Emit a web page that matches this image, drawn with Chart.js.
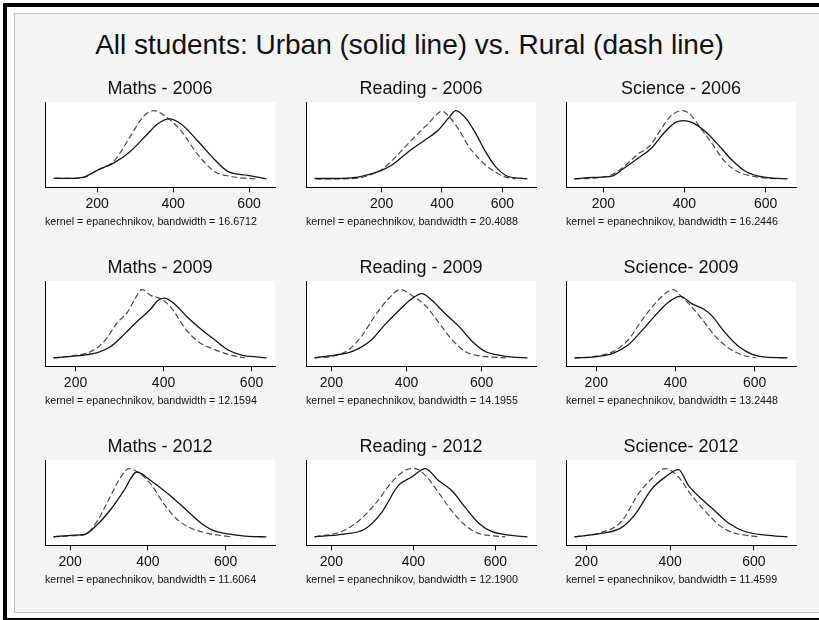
<!DOCTYPE html>
<html>
<head>
<meta charset="utf-8">
<script src="https://cdn.jsdelivr.net/npm/chart.js@4.4.1/dist/chart.umd.min.js"></script>
<style>
  html, body { margin:0; padding:0; background:#ffffff; width:819px; height:620px; overflow:hidden;
    font-family:"Liberation Sans", Arial, sans-serif; }
  #outer { position:absolute; left:3px; top:3px; width:1400px; height:619px; border:4px solid #000; box-sizing:border-box; }
  #inner { position:absolute; left:14px; top:13px; width:1300px; height:600px; border:1px solid #c4c4c4; box-sizing:border-box; background:#f4f4f4; }
  #mainTitle { position:absolute; left:0; top:29px; width:819px; text-align:center; font-size:28px; line-height:32px; color:#111; }
  canvas { position:absolute; }
</style>
</head>
<body>
<div id="outer"></div>
<div id="inner"></div>
<div id="mainTitle">All students: Urban (solid line) vs. Rural (dash line)</div>
<div id="charts"></div>
<script>
// ---------- DATA (score, kernel density) ----------
const panelTitles = ["Maths - 2006", "Reading - 2006", "Science - 2006",
                     "Maths - 2009", "Reading - 2009", "Science- 2009",
                     "Maths - 2012", "Reading - 2012", "Science- 2012"];
const bandwidths = ["16.6712", "20.4088", "16.2446", "12.1594", "14.1955", "13.2448", "11.6064", "12.1900", "11.4599"];
const xTicks = [200, 400, 600];
const seriesNames = ["Urban", "Rural"];

const maths2006Urban = [[85,0.00005],[125,0.00003],[165,0.00014],[182,0.00038],[200,0.00068],[244,0.00127],[288,0.00221],[332,0.00356],[359,0.00437],[390,0.00478],[421,0.00437],[465,0.00302],[509,0.00154],[544,0.00059],[597,0.00027],[646,0]];
const maths2006Rural = [[90,0.00003],[130,0.00003],[165,0.00011],[200,0.00068],[244,0.0014],[288,0.00343],[324,0.00505],[350,0.00545],[377,0.00505],[421,0.00383],[465,0.00194],[509,0.00059],[553,0.00019],[588,0.00005],[620,0]];
const reading2006Urban = [[-22,0.00002],[44,0.00002],[122,0.00011],[156,0.00027],[200,0.00056],[233,0.00089],[289,0.00178],[344,0.00255],[389,0.00322],[422,0.004],[446,0.00448],[478,0.004],[511,0.003],[544,0.00178],[578,0.00078],[611,0.00022],[656,0.00004],[683,0]];
const reading2006Rural = [[-17,0],[44,0],[122,0.00004],[156,0.00022],[200,0.0006],[244,0.00138],[289,0.00233],[322,0.003],[356,0.00366],[389,0.00433],[400,0.00444],[422,0.00411],[456,0.00322],[489,0.00211],[522,0.00133],[567,0.00056],[611,0.00011],[644,0]];
const science2006Urban = [[129,0],[175,0.00012],[221,0.00024],[250,0.0009],[283,0.00174],[317,0.00264],[350,0.00405],[379,0.00498],[398,0.00512],[417,0.00498],[450,0.0042],[483,0.003],[517,0.00165],[550,0.00066],[583,0.00024],[617,0.00006],[654,0]];
const science2006Rural = [[129,0],[175,0.00006],[221,0.00036],[250,0.00105],[283,0.0021],[317,0.003],[342,0.00435],[367,0.00555],[396,0.006],[417,0.00555],[442,0.00435],[467,0.00315],[500,0.0015],[533,0.0006],[567,0.00024],[600,0.00006],[633,0]];
const maths2009Urban = [[150,0],[196,0.00016],[250,0.00049],[280,0.00108],[310,0.00223],[341,0.00354],[371,0.00469],[387,0.00551],[402,0.00574],[425,0.00518],[455,0.00387],[486,0.00272],[516,0.00174],[547,0.00075],[577,0.00026],[615,0.00007],[634,0]];
const maths2009Rural = [[150,0],[196,0.0002],[234,0.00059],[265,0.00157],[295,0.00338],[318,0.00436],[333,0.00551],[351,0.00656],[371,0.006],[394,0.00567],[417,0.00485],[448,0.00289],[478,0.00157],[509,0.00092],[539,0.00043],[570,0.0001],[585,0]];
const reading2009Urban = [[155,0],[209,0.0002],[254,0.00045],[307,0.00134],[343,0.00247],[379,0.00348],[414,0.00436],[441,0.00474],[468,0.00423],[504,0.00323],[539,0.00234],[575,0.00121],[611,0.00045],[646,0.0002],[682,0.00005],[722,0]];
const reading2009Rural = [[155,0],[209,0.00015],[245,0.00058],[280,0.00159],[316,0.0031],[352,0.00436],[383,0.00504],[414,0.00461],[450,0.00386],[486,0.0026],[521,0.00134],[557,0.00045],[593,0.00015],[629,0.00005],[664,0]];
const science2009Urban = [[145,0],[196,0.00008],[242,0.00035],[281,0.00103],[314,0.00211],[348,0.00332],[382,0.0044],[412,0.00486],[442,0.00427],[471,0.00386],[492,0.00332],[526,0.00197],[560,0.00089],[594,0.00027],[628,0.00005],[683,0]];
const science2009Rural = [[145,0],[196,0.00011],[242,0.00049],[281,0.00143],[314,0.00292],[348,0.00427],[374,0.00508],[395,0.0054],[416,0.00481],[442,0.004],[467,0.00305],[501,0.0017],[535,0.00076],[569,0.00022],[603,0]];
const maths2012Urban = [[157,0],[209,0.00014],[239,0.00023],[269,0.001],[304,0.00229],[338,0.00386],[371,0.00543],[407,0.00472],[442,0.00386],[468,0.00315],[502,0.00215],[537,0.00114],[571,0.00049],[615,0.0002],[658,0.00003],[705,0]];
const maths2012Rural = [[157,0],[209,0.00009],[239,0.0002],[269,0.00129],[304,0.00343],[330,0.005],[351,0.00572],[373,0.00543],[407,0.00443],[442,0.00272],[476,0.00143],[511,0.00072],[554,0.00029],[593,0.00009],[615,0]];
const reading2012Urban = [[159,0],[224,0.00018],[282,0.0006],[322,0.00182],[363,0.0039],[396,0.00455],[429,0.0052],[461,0.00429],[494,0.00351],[527,0.00221],[559,0.00104],[592,0.00039],[633,0.00013],[678,0]];
const reading2012Rural = [[159,0],[224,0.00039],[265,0.00117],[306,0.00247],[347,0.00416],[380,0.00507],[404,0.0052],[429,0.00468],[461,0.00338],[494,0.00195],[527,0.00086],[559,0.00026],[592,0.00008],[624,0]];
const science2012Urban = [[172,0],[236,0.0003],[284,0.00082],[316,0.00197],[356,0.00424],[388,0.0053],[420,0.00597],[444,0.00455],[476,0.00333],[508,0.00227],[540,0.00121],[580,0.00045],[628,0.00015],[680,0]];
const science2012Rural = [[172,0],[236,0.00039],[284,0.00136],[324,0.00379],[356,0.00515],[388,0.00606],[420,0.0053],[452,0.00364],[484,0.00227],[516,0.00106],[548,0.00039],[580,0.00015],[612,0]];

const urbanSeries = [maths2006Urban, reading2006Urban, science2006Urban,
                     maths2009Urban, reading2009Urban, science2009Urban,
                     maths2012Urban, reading2012Urban, science2012Urban];
const ruralSeries = [maths2006Rural, reading2006Rural, science2006Rural,
                     maths2009Rural, reading2009Rural, science2009Rural,
                     maths2012Rural, reading2012Rural, science2012Rural];

// ---------- LAYOUT ----------
const colLeft = [45, 306, 566];
const rowTop = [102, 281, 460];
const plotW = 230, plotH = 84, padL = 12, padR = 12, headH = 30, footH = 46;

Chart.defaults.font.family = "'Liberation Sans', Arial, sans-serif";
Chart.defaults.color = '#111';

const whitePlot = {
  id: 'whitePlot',
  beforeDraw(chart) {
    const {ctx, chartArea: a} = chart;
    ctx.save();
    ctx.fillStyle = '#ffffff';
    ctx.fillRect(a.left, a.top, a.right - a.left, a.bottom - a.top);
    ctx.restore();
  }
};

const holder = document.getElementById('charts');
for (let i = 0; i < 9; i++) {
  const r = Math.floor(i / 3), c = i % 3;
  const cv = document.createElement('canvas');
  const W = plotW + padL + padR, H = headH + plotH + footH;
  cv.width = W; cv.height = H;
  cv.style.width = W + 'px'; cv.style.height = H + 'px';
  cv.style.left = (colLeft[c] - padL) + 'px';
  cv.style.top = (rowTop[r] - headH) + 'px';
  holder.appendChild(cv);

  const u = urbanSeries[i], ru = ruralSeries[i];
  const allX = u.concat(ru).map(p => p[0]);
  const allY = u.concat(ru).map(p => p[1]);
  const xmin = Math.min(...allX), xmax = Math.max(...allX), xr = xmax - xmin;
  const ymax = Math.max(...allY);

  new Chart(cv, {
    type: 'line',
    data: {
      datasets: [
        { label: seriesNames[0], data: u.map(p => ({x: p[0], y: p[1]})),
          borderColor: '#141414', borderWidth: 1.3, pointRadius: 0,
          cubicInterpolationMode: 'monotone', fill: false },
        { label: seriesNames[1], data: ru.map(p => ({x: p[0], y: p[1]})),
          borderColor: '#4a4a4a', borderWidth: 1.2, borderDash: [6, 3], pointRadius: 0,
          cubicInterpolationMode: 'monotone', fill: false }
      ]
    },
    options: {
      responsive: false, animation: false, devicePixelRatio: 1,
      layout: { padding: { left: padL, right: padR, top: 0, bottom: 0 } },
      plugins: {
        legend: { display: false },
        tooltip: { enabled: false },
        title: { display: true, text: panelTitles[i], color: '#111',
                 font: { size: 18, weight: 'normal' }, padding: { top: 6.7, bottom: 1.7 } }
      },
      scales: {
        x: {
          type: 'linear', position: 'bottom',
          min: xmin - 0.04 * xr, max: xmax + 0.04 * xr,
          afterBuildTicks: s => { s.ticks = xTicks.map(v => ({ value: v })); },
          grid: { display: true, drawOnChartArea: false, drawTicks: true, tickLength: 5, color: '#000', lineWidth: 1 },
          border: { display: true, color: '#000', width: 1 },
          ticks: { font: { size: 14 }, color: '#111', padding: 3, maxRotation: 0, autoSkip: false,
                   callback: v => String(v) },
          title: { display: true, align: 'start', text: 'kernel = epanechnikov, bandwidth = ' + bandwidths[i],
                   font: { size: 10.7 }, color: '#111', padding: { top: 0, bottom: 4 } }
        },
        y: {
          min: -0.125 * ymax, max: 1.125 * ymax,
          grid: { display: false, drawTicks: false },
          border: { display: true, color: '#000', width: 1 },
          ticks: { display: false },
          afterFit: s => { s.width = 0; }
        }
      }
    },
    plugins: [whitePlot]
  });
}
</script>
</body>
</html>
